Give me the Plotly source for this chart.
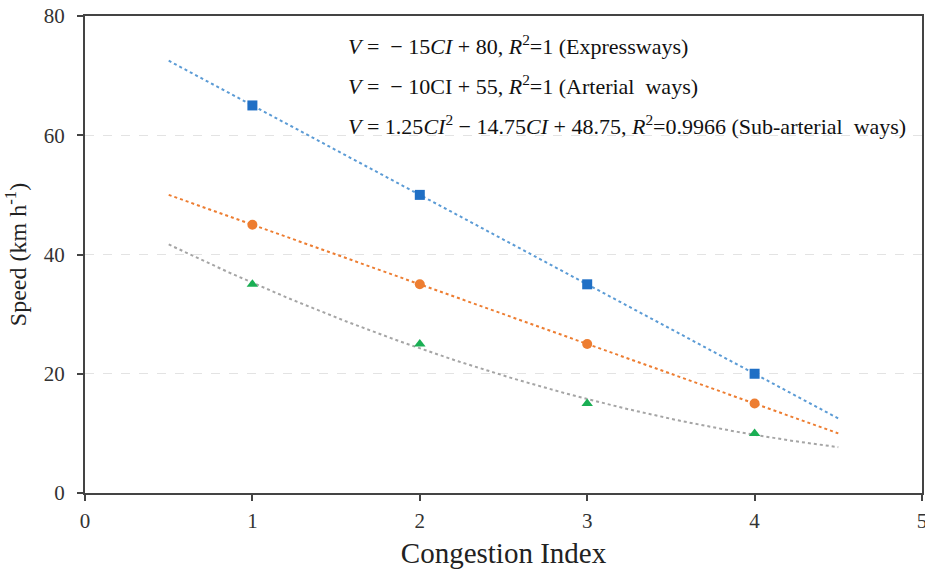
import numpy as np
import plotly.graph_objects as go

# Observed speeds at each congestion index level
congestion_index = [1, 2, 3, 4]
expressways = [65, 50, 35, 20]
arterial_ways = [45, 35, 25, 15]
sub_arterial_ways = [35, 25, 15, 10]

# Trendline coefficients (highest power first) and the span they are drawn over
expressway_fit = [-15, 80]
arterial_fit = [-10, 55]
sub_arterial_fit = [1.25, -14.75, 48.75]
trend_span = [0.5, 4.5]

x_ticks = [0, 1, 2, 3, 4, 5]
y_ticks = [0, 20, 40, 60, 80]

equations = [
    "<i>V</i> =  \u2212 15<i>CI</i> + 80, <i>R</i><sup>2</sup>=1 (Expressways)",
    "<i>V</i> =  \u2212 10CI + 55, <i>R</i><sup>2</sup>=1 (Arterial  ways)",
    "<i>V</i> = 1.25<i>CI</i><sup>2</sup> \u2212 14.75<i>CI</i> + 48.75, <i>R</i><sup>2</sup>=0.9966 (Sub-arterial  ways)",
]

SERIF = "Liberation Serif, Times New Roman, serif"
xs = np.linspace(trend_span[0], trend_span[1], 200)

fig = go.Figure()

# Dotted trendlines
for coeffs, color in [
    (expressway_fit, "#5B9BD5"),
    (arterial_fit, "#ED7D31"),
    (sub_arterial_fit, "#A5A5A5"),
]:
    fig.add_trace(go.Scatter(
        x=xs, y=np.polyval(coeffs, xs), mode="lines",
        line=dict(color=color, width=2, dash="dot"),
        hoverinfo="skip", showlegend=False,
    ))

# Data markers
for values, symbol, color, size in [
    (expressways, "square", "#1F6FC5", 10),
    (arterial_ways, "circle", "#ED7D31", 10),
    (sub_arterial_ways, "triangle-up", "#1AAF54", 10),
]:
    fig.add_trace(go.Scatter(
        x=congestion_index, y=values, mode="markers",
        marker=dict(symbol=symbol, color=color, size=size),
        showlegend=False,
    ))

for i, text in enumerate(equations):
    fig.add_annotation(
        x=0.312, xref="paper", xanchor="left",
        y=[0.94, 0.856, 0.772][i], yref="paper", yanchor="middle",
        text=text, showarrow=False,
        font=dict(family=SERIF, size=22, color="#111111"),
    )

axis_line = dict(showline=True, linecolor="#444444", linewidth=2, mirror=True,
                 ticks="outside", ticklen=6, tickcolor="#444444", tickwidth=1.5,
                 tickfont=dict(family=SERIF, size=21, color="#333333"), zeroline=False,
                 automargin=False, ticklabeloverflow="allow")

fig.update_xaxes(
    range=[0, 5], tickvals=x_ticks, showgrid=False, ticklabelstandoff=2,
    title=dict(text="Congestion Index", font=dict(family=SERIF, size=29, color="#222222"), standoff=10),
    **axis_line,
)
fig.update_yaxes(
    range=[0, 80], tickvals=y_ticks, showgrid=True, ticklabelstandoff=8,
    gridcolor="#E3E3E3", griddash="dash", gridwidth=1,
    title=dict(text="Speed (km h<sup>-1</sup>)", font=dict(family=SERIF, size=24, color="#222222"), standoff=10),
    **axis_line,
)

fig.update_layout(
    width=925, height=573,
    margin=dict(l=85, r=3, t=16, b=80),
    plot_bgcolor="white", paper_bgcolor="white",
)

fig.write_html("out.html")
